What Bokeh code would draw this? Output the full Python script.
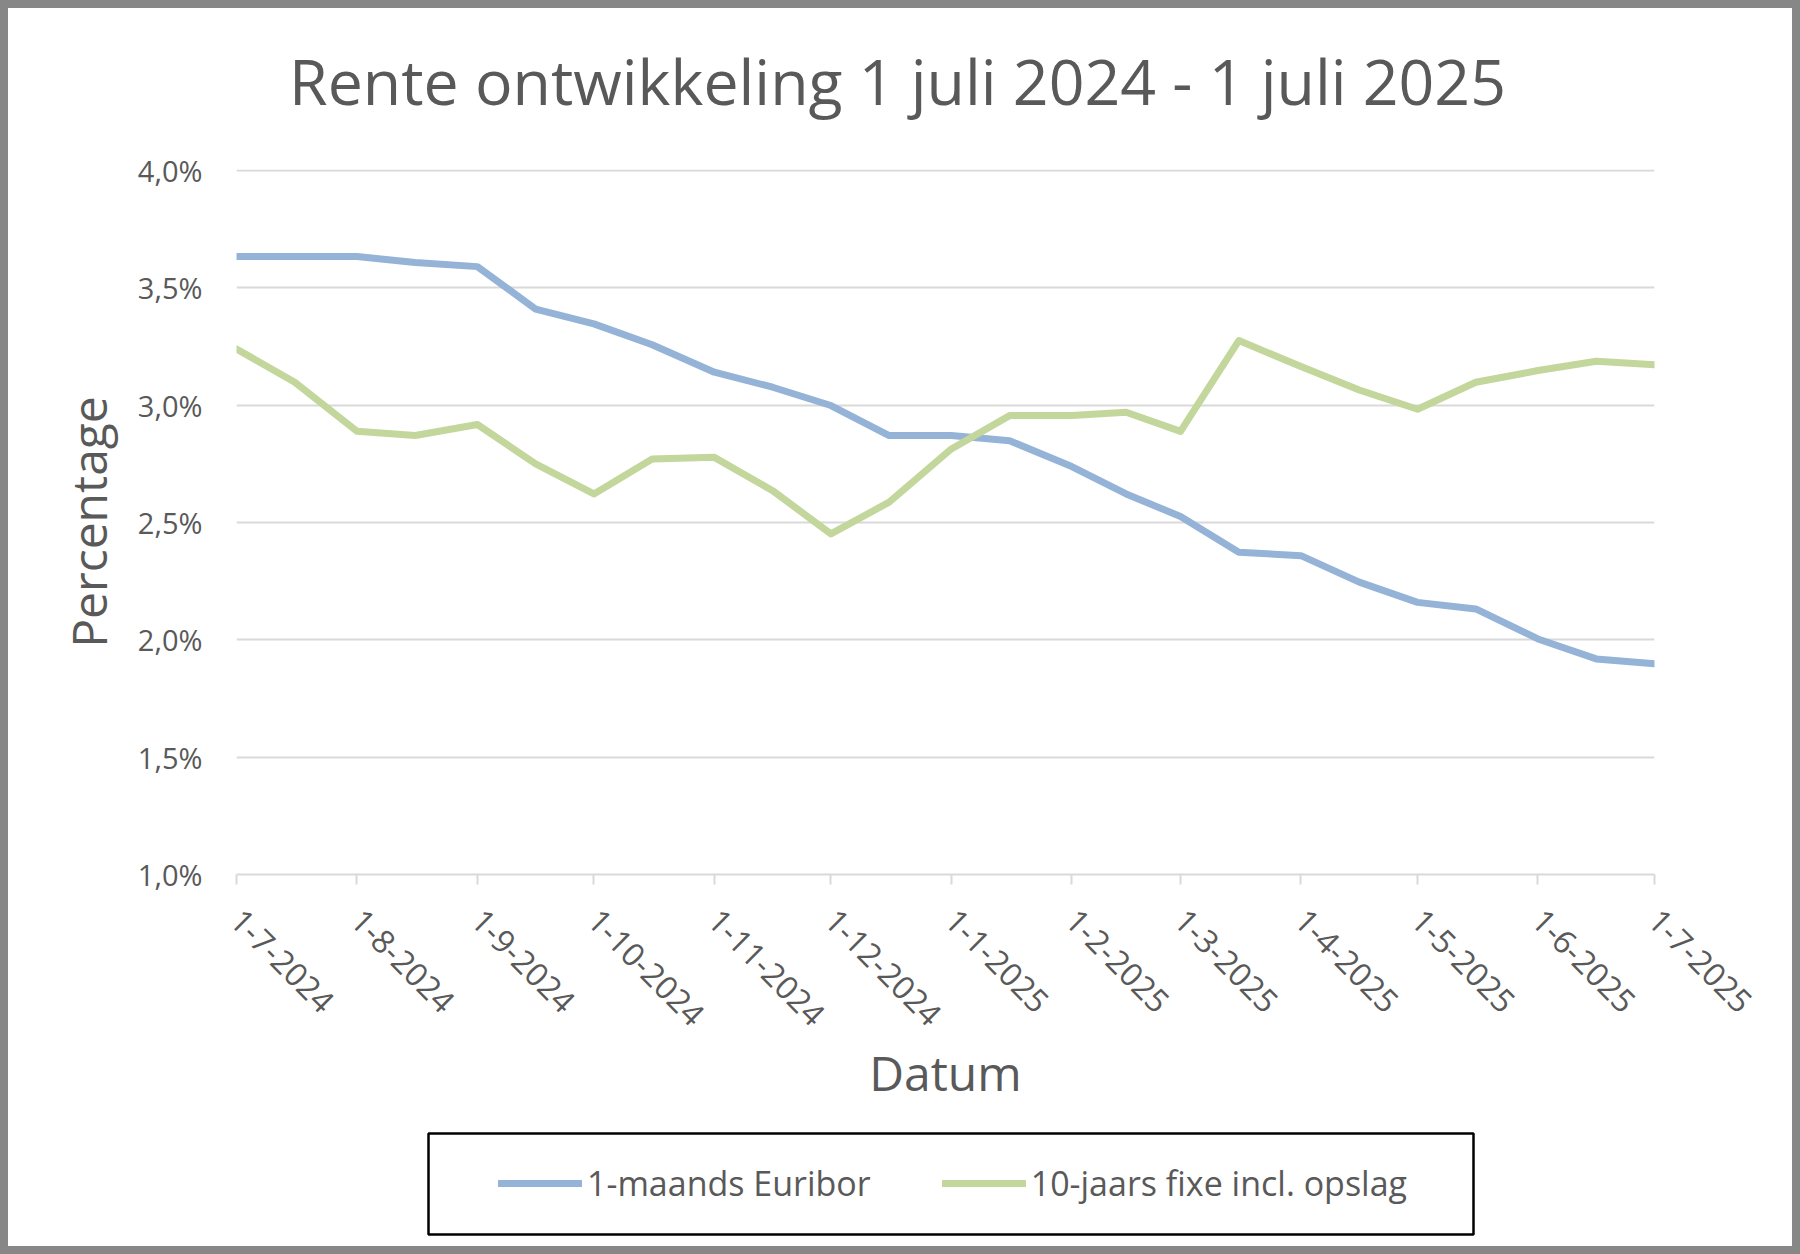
import math
import datetime as dt
from bokeh.plotting import figure
from bokeh.layouts import column
from bokeh.models import (Range1d, FixedTicker, CustomJSTickFormatter,
                          Legend, LegendItem, BoxAnnotation, Label)
from bokeh.embed import file_html
from bokeh.resources import INLINE

# ---------------- data ----------------
dates = ["2024-07-01", "2024-07-16", "2024-08-01", "2024-08-16", "2024-09-01",
         "2024-09-16", "2024-10-01", "2024-10-16", "2024-11-01", "2024-11-16",
         "2024-12-01", "2024-12-16", "2025-01-01", "2025-01-16", "2025-02-01",
         "2025-02-15", "2025-03-01", "2025-03-16", "2025-04-01", "2025-04-16",
         "2025-05-01", "2025-05-16", "2025-06-01", "2025-06-16", "2025-07-01"]
euribor = [3.634, 3.634, 3.634, 3.609, 3.591, 3.41, 3.347, 3.258, 3.141, 3.077,
           2.999, 2.871, 2.871, 2.849, 2.739, 2.622, 2.526, 2.374, 2.359, 2.246,
           2.16, 2.132, 2.004, 1.919, 1.898]
fixe = [3.24, 3.098, 2.889, 2.871, 2.918, 2.75, 2.622, 2.771, 2.778, 2.636,
        2.452, 2.587, 2.814, 2.956, 2.956, 2.97, 2.889, 3.276, 3.165, 3.065,
        2.983, 3.098, 3.148, 3.188, 3.173]
tick_dates = ["2024-07-01", "2024-08-01", "2024-09-01", "2024-10-01", "2024-11-01",
              "2024-12-01", "2025-01-01", "2025-02-01", "2025-03-01", "2025-04-01",
              "2025-05-01", "2025-06-01", "2025-07-01"]
y_ticks = [1.0, 1.5, 2.0, 2.5, 3.0, 3.5, 4.0]
series_names = ["1-maands Euribor", "10-jaars fixe incl. opslag"]
title_text = "Rente ontwikkeling 1 juli 2024 - 1 juli 2025"
x_label = "Datum"
y_label = "Percentage"


def to_ms(s):
    d = dt.datetime.strptime(s, "%Y-%m-%d").replace(tzinfo=dt.timezone.utc)
    return d.timestamp() * 1000.0


xs = [to_ms(d) for d in dates]
xticks = [to_ms(d) for d in tick_dates]

FONT = "Open Sans"
TXT = "#595959"
BLUE = "#95B3D7"
GREEN = "#C3D69B"
W = 1800
H0 = 130                   # title strip
H1 = 995                   # main chart part
H2 = 1254 - H0 - H1        # legend strip
FL, FR = 236, 1654         # frame left/right in page px
FT, FB = 169 - H0, 874 - H0   # frame top/bottom inside the chart part

# ---------------- title strip ----------------
p0 = figure(width=W, height=H0, output_backend="svg", toolbar_location=None,
            x_range=Range1d(FL, FR), y_range=Range1d(0, H0),
            x_axis_type=None, y_axis_type=None,
            min_border=0, min_border_left=FL, min_border_right=W - FR,
            min_border_top=0, min_border_bottom=0,
            background_fill_alpha=0, border_fill_alpha=0,
            outline_line_color=None)
p0.add_layout(Label(x=897, y=H0 - 80, text=title_text, text_align="center",
                    text_baseline="alphabetic", text_font=FONT,
                    text_font_size="62.6px", text_color=TXT))

# ---------------- chart ----------------
p = figure(width=W, height=H1, output_backend="svg", toolbar_location=None,
           x_range=Range1d(xticks[0], xticks[-1]), y_range=Range1d(1.0, 4.005),
           min_border_left=FL, min_border_right=W - FR,
           min_border_top=FT, min_border_bottom=H1 - FB,
           background_fill_color="white", border_fill_alpha=0,
           outline_line_color=None)

r1 = p.line(xs, euribor, line_color=BLUE, line_width=7,
            line_cap="round", line_join="round")
r2 = p.line(xs, fixe, line_color=GREEN, line_width=7,
            line_cap="round", line_join="round")

# grid
p.xgrid.visible = False
p.ygrid.grid_line_color = "#D9D9D9"
p.ygrid.grid_line_width = 2

# y axis
p.yaxis.ticker = FixedTicker(ticks=y_ticks)
p.yaxis.formatter = CustomJSTickFormatter(code="return tick.toFixed(1).replace('.', ',') + '%';")
p.yaxis.axis_line_color = None
p.yaxis.major_tick_line_color = None
p.yaxis.minor_tick_line_color = None
p.yaxis.major_label_text_font = FONT
p.yaxis.major_label_text_font_size = "29px"
p.yaxis.major_label_text_color = TXT
p.yaxis.major_label_standoff = 28
p.yaxis.axis_label = y_label
p.yaxis.axis_label_text_font = FONT
p.yaxis.axis_label_text_font_size = "48px"
p.yaxis.axis_label_text_font_style = "normal"
p.yaxis.axis_label_text_color = TXT
p.yaxis.axis_label_standoff = 14

# x axis
p.xaxis.ticker = FixedTicker(ticks=xticks)
p.xaxis.formatter = CustomJSTickFormatter(code="""
const d = new Date(tick);
return d.getUTCDate() + '-' + (d.getUTCMonth() + 1) + '-' + d.getUTCFullYear();
""")
p.xaxis.axis_line_color = "#D9D9D9"
p.xaxis.axis_line_width = 2
p.xaxis.major_tick_line_color = "#D9D9D9"
p.xaxis.major_tick_line_width = 2
p.xaxis.major_tick_in = 0
p.xaxis.major_tick_out = 10
p.xaxis.minor_tick_line_color = None
p.xaxis.major_label_orientation = -math.pi / 4
p.xaxis.major_label_text_font = FONT
p.xaxis.major_label_text_font_size = "32px"
p.xaxis.major_label_text_color = TXT
p.xaxis.major_label_standoff = 30
p.xaxis.axis_label = x_label
p.xaxis.axis_label_text_font = FONT
p.xaxis.axis_label_text_font_size = "48px"
p.xaxis.axis_label_text_font_style = "normal"
p.xaxis.axis_label_text_color = TXT
p.xaxis.axis_label_standoff = 0

# ---------------- legend strip ----------------
p2 = figure(width=W, height=H2, output_backend="svg", toolbar_location=None,
            x_range=Range1d(FL, FR), y_range=Range1d(0, H2),
            x_axis_type=None, y_axis_type=None,
            min_border=0, min_border_left=FL, min_border_right=W - FR,
            min_border_top=0, min_border_bottom=0,
            background_fill_alpha=0, border_fill_alpha=0,
            outline_line_color=None)
# same series (outside this strip's ranges; only used for the legend swatches)
l1 = p2.line(xs, euribor, line_color=BLUE, line_width=7, line_cap="round")
l2 = p2.line(xs, fixe, line_color=GREEN, line_width=7, line_cap="round")

LEG_H = 46
legend = Legend(items=[LegendItem(label=series_names[0], renderers=[l1]),
                       LegendItem(label=series_names[1], renderers=[l2])],
                location=(498 - FL, (H2 - 58) - LEG_H // 2), orientation="horizontal",
                padding=0, margin=0, spacing=71, glyph_width=84,
                glyph_height=LEG_H, label_height=LEG_H, label_standoff=5,
                label_text_font=FONT, label_text_font_size="34px",
                label_text_color=TXT, border_line_color=None,
                background_fill_alpha=0)
p2.add_layout(legend)

legend_box = BoxAnnotation(left=428, right=1473, top=H2 - 8, bottom=H2 - 109,
                           fill_alpha=0, line_color="black", line_alpha=1.0,
                           line_width=2.5)
p2.add_layout(legend_box)

layout = column(p0, p, p2, spacing=0)
layout.styles = {"background-color": "white",
                 "box-shadow": "inset 0 0 0 8px #878787"}

open("out.html", "w").write(file_html(layout, INLINE))
